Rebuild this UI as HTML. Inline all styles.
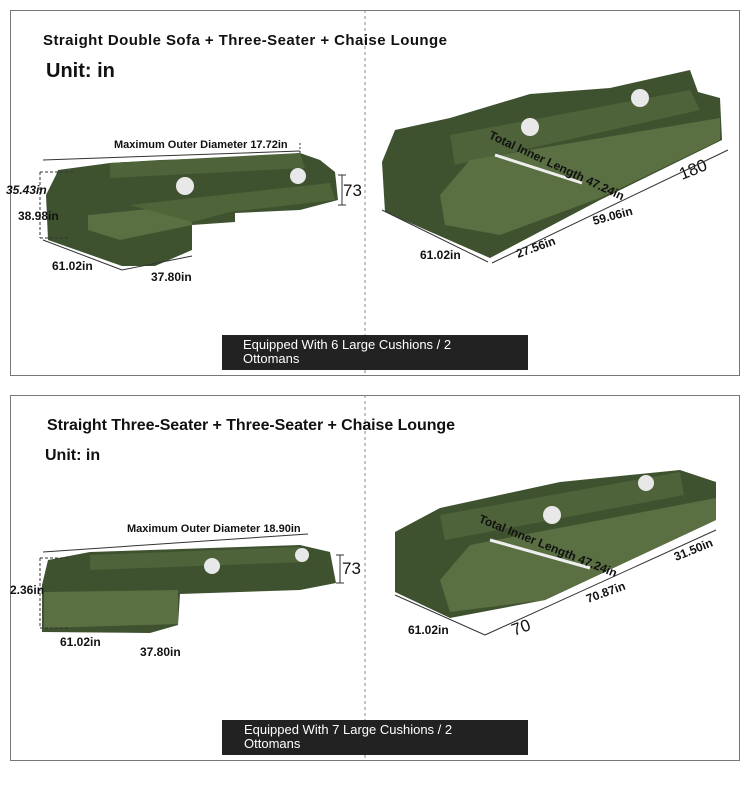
<!DOCTYPE html>
<html><head><meta charset="utf-8"><style>
body{margin:0;background:#fff;width:750px;height:787px;overflow:hidden;font-family:"Liberation Sans",sans-serif}
</style></head><body>
<svg width="750" height="787" xmlns="http://www.w3.org/2000/svg" font-family="Liberation Sans, sans-serif">
<rect x="10.5" y="10.5" width="729" height="365" fill="#fff" stroke="#777"/>
<rect x="10.5" y="395.5" width="729" height="365" fill="#fff" stroke="#777"/>
<line x1="365" y1="10" x2="365" y2="375" stroke="#888" stroke-dasharray="3,3"/>
<line x1="365" y1="395" x2="365" y2="760" stroke="#888" stroke-dasharray="3,3"/>

<!-- Panel 1 -->
<text x="43" y="45" font-size="15" font-weight="bold" fill="#111" textLength="404">Straight Double Sofa + Three-Seater + Chaise Lounge</text>
<text x="46" y="77" font-size="20" font-weight="bold" fill="#111">Unit: in</text>
<text x="114" y="148" font-size="11" font-weight="bold" fill="#111">Maximum Outer Diameter 17.72in</text>
<line x1="43" y1="160" x2="300" y2="151" stroke="#333"/>
<line x1="300" y1="143" x2="300" y2="160" stroke="#333" stroke-dasharray="2,2"/>
<!-- left sofa 1 -->
<polygon points="56,175 58,170 110,163 160,160 260,157 300,153 320,160 335,172 338,200 300,210 235,213 235,222 192,225 192,250 155,266 122,266 48,240 46,195" fill="#3f5230"/>
<polygon points="110,163 300,153 305,168 110,178" fill="#4e6339"/>
<polygon points="88,215 190,205 192,225 120,240 88,230" fill="#5a6f42"/>
<polygon points="130,205 330,183 335,200 230,212 192,222" fill="#4f6439"/>
<circle cx="185" cy="186" r="9" fill="#e8e8e8"/><circle cx="298" cy="176" r="8" fill="#e8e8e8"/>
<path d="M40 172 H75 M40 238 H70 M40 172 V238" stroke="#333" fill="none" stroke-dasharray="3,2"/>
<line x1="43" y1="240" x2="122" y2="270" stroke="#333"/><line x1="122" y1="270" x2="192" y2="256" stroke="#333"/>
<text x="6" y="194" font-size="12" font-weight="bold" font-style="italic" fill="#111">35.43in</text>
<text x="18" y="220" font-size="12" font-weight="bold" fill="#111">38.98in</text>
<text x="52" y="270" font-size="12" font-weight="bold" fill="#111">61.02in</text>
<text x="151" y="281" font-size="12" font-weight="bold" fill="#111">37.80in</text>
<text x="343" y="196" font-size="17" fill="#111">73</text>
<path d="M338 175 H346 M342 175 V205 M338 205 H346" stroke="#333" fill="none"/>
<!-- right sofa 1 -->
<polygon points="382,162 395,130 450,118 530,94 610,88 690,70 698,92 720,98 722,140 600,200 490,258 385,212" fill="#3f5230"/>
<polygon points="450,135 690,90 700,110 455,165" fill="#4e6339"/>
<polygon points="440,195 470,160 720,118 720,140 600,198 500,235 445,225" fill="#5a6f42"/>
<circle cx="530" cy="127" r="9" fill="#e8e8e8"/><circle cx="640" cy="98" r="9" fill="#e8e8e8"/>
<line x1="495" y1="155" x2="582" y2="183" stroke="#eee" stroke-width="3"/>
<text x="488" y="138" font-size="12" font-weight="bold" fill="#111" transform="rotate(25 488 138)">Total Inner Length 47.24in</text>
<text x="682" y="180" font-size="17" fill="#111" transform="rotate(-22 682 180)">180</text>
<text x="594" y="225" font-size="12" font-weight="bold" fill="#111" transform="rotate(-15 594 225)">59.06in</text>
<text x="518" y="258" font-size="12" font-weight="bold" fill="#111" transform="rotate(-20 518 258)">27.56in</text>
<text x="420" y="259" font-size="12" font-weight="bold" fill="#111">61.02in</text>
<line x1="382" y1="210" x2="488" y2="262" stroke="#333"/>
<line x1="492" y1="263" x2="728" y2="150" stroke="#333"/>
<rect x="222" y="335" width="306" height="35" fill="#222"/>
<text x="243" y="349" font-size="13" fill="#fff">Equipped With 6 Large Cushions / 2</text>
<text x="243" y="363" font-size="13" fill="#fff">Ottomans</text>

<!-- Panel 2 -->
<text x="47" y="430" font-size="16" font-weight="bold" fill="#111" textLength="408">Straight Three-Seater + Three-Seater + Chaise Lounge</text>
<text x="45" y="460" font-size="16" font-weight="bold" fill="#111">Unit: in</text>
<text x="127" y="532" font-size="11" font-weight="bold" fill="#111">Maximum Outer Diameter 18.90in</text>
<line x1="43" y1="552" x2="308" y2="534" stroke="#333"/>
<polygon points="48,560 90,552 300,545 330,552 336,583 300,590 180,594 178,625 150,633 42,632 42,585" fill="#3f5230"/>
<polygon points="90,555 300,547 305,562 90,570" fill="#4e6339"/>
<polygon points="44,592 178,590 178,624 44,628" fill="#5a6f42"/>
<circle cx="212" cy="566" r="8" fill="#e8e8e8"/><circle cx="302" cy="555" r="7" fill="#e8e8e8"/>
<path d="M40 558 H70 M40 628 H70 M40 558 V628" stroke="#333" fill="none" stroke-dasharray="3,2"/>
<text x="10" y="594" font-size="12" font-weight="bold" fill="#111">2.36in</text>
<text x="60" y="646" font-size="12" font-weight="bold" fill="#111">61.02in</text>
<text x="140" y="656" font-size="12" font-weight="bold" fill="#111">37.80in</text>
<text x="342" y="574" font-size="17" fill="#111">73</text>
<path d="M336 555 H344 M340 555 V583 M336 583 H344" stroke="#333" fill="none"/>
<polygon points="395,532 440,508 560,482 680,470 716,482 716,520 545,600 450,618 395,592" fill="#3f5230"/>
<polygon points="440,515 680,472 684,495 445,540" fill="#4e6339"/>
<polygon points="440,580 470,545 716,498 716,520 545,600 450,612" fill="#5a6f42"/>
<circle cx="552" cy="515" r="9" fill="#e8e8e8"/><circle cx="646" cy="483" r="8" fill="#e8e8e8"/>
<line x1="490" y1="540" x2="590" y2="568" stroke="#eee" stroke-width="3"/>
<text x="478" y="522" font-size="12" font-weight="bold" fill="#111" transform="rotate(22 478 522)">Total Inner Length 47.24in</text>
<text x="676" y="561" font-size="12" font-weight="bold" fill="#111" transform="rotate(-22 676 561)">31.50in</text>
<text x="588" y="603" font-size="12" font-weight="bold" fill="#111" transform="rotate(-20 588 603)">70.87in</text>
<text x="514" y="636" font-size="17" fill="#111" transform="rotate(-20 514 636)">70</text>
<text x="408" y="634" font-size="12" font-weight="bold" fill="#111">61.02in</text>
<line x1="395" y1="595" x2="485" y2="635" stroke="#333"/>
<line x1="485" y1="635" x2="716" y2="530" stroke="#333"/>
<rect x="222" y="720" width="306" height="35" fill="#222"/>
<text x="244" y="734" font-size="13" fill="#fff">Equipped With 7 Large Cushions / 2</text>
<text x="244" y="748" font-size="13" fill="#fff">Ottomans</text>
</svg>
</body></html>
